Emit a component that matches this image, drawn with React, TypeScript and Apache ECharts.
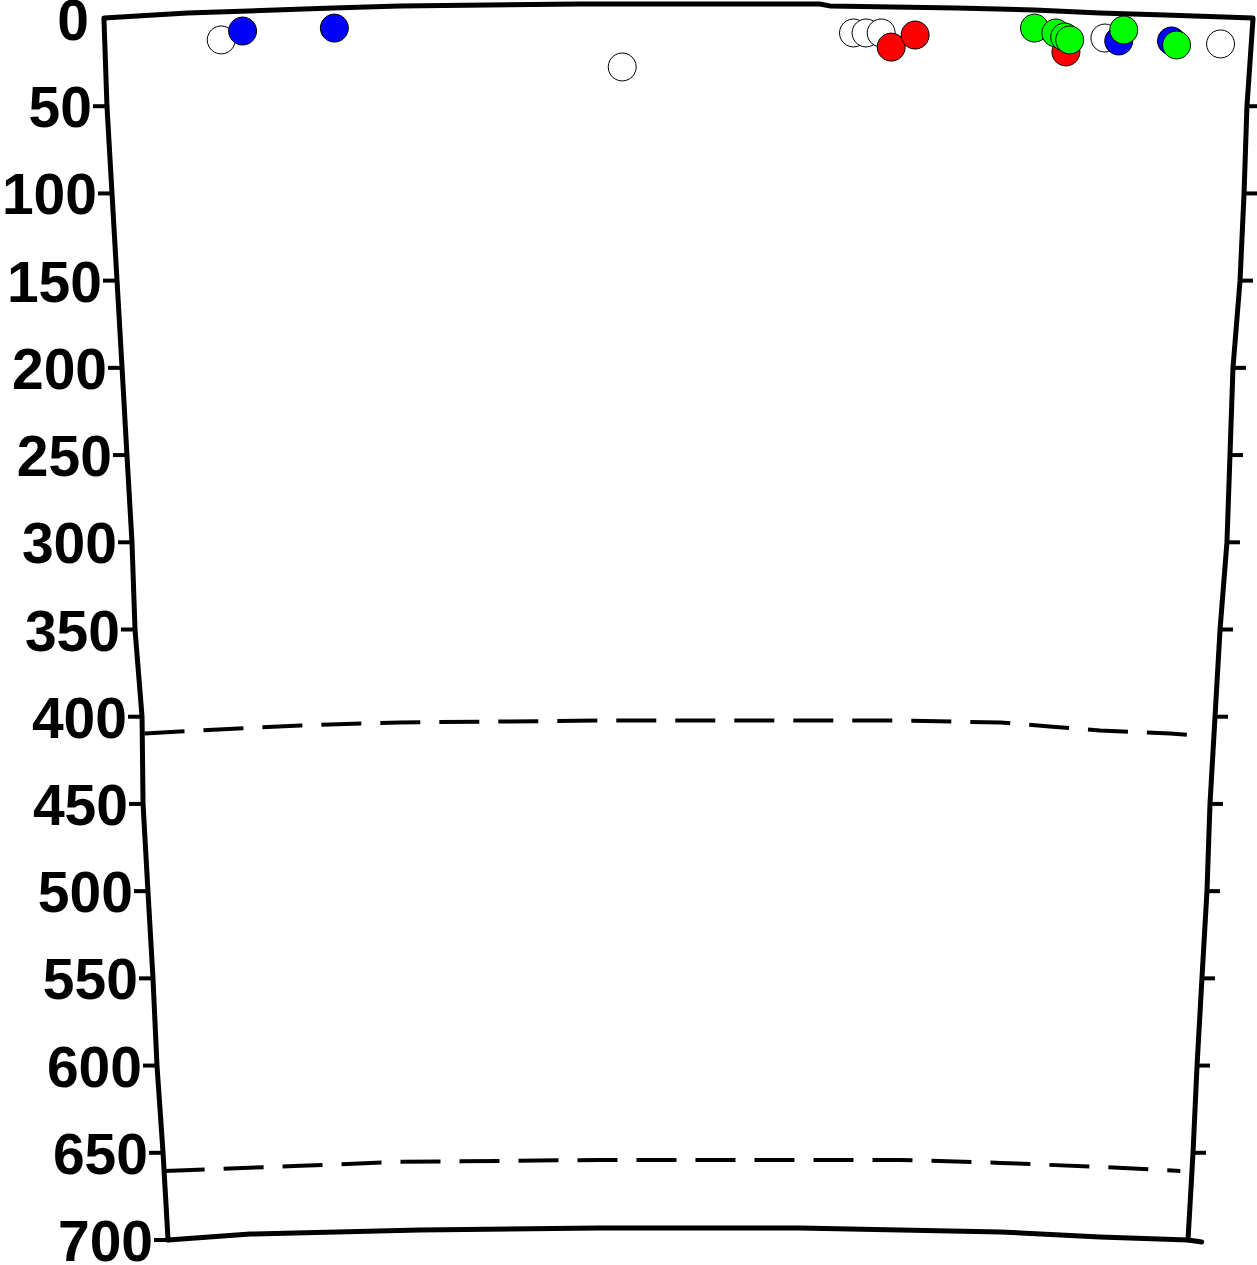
import React, { useEffect, useRef } from "react";
import * as echarts from "echarts";

// Depth ticks (y, increasing downward)
const TICKS = [0, 50, 100, 150, 200, 250, 300, 350, 400, 450, 500, 550, 600, 650, 700];
// Section edges (distance 0-100) sampled at each tick depth
const LEFT_EDGE = [8.27, 8.51, 8.91, 9.31, 9.71, 10.1, 10.5, 10.74, 11.3, 11.38, 11.77, 12.17, 12.49, 12.97, 13.37];
const RIGHT_EDGE = [99.68, 99.2, 98.97, 98.65, 98.09, 97.85, 97.61, 97.06, 96.66, 96.26, 96.02, 95.62, 95.23, 94.91, 94.51];

// Top surface
const TOP_X = [8.27, 14.9, 26.5, 31.8, 46.1, 65.2, 66.0, 76.1, 82.3, 87.5, 92.7, 99.68];
const TOP_D = [-0.6, -3.4, -6.3, -7.5, -8.6, -8.6, -7.5, -6.3, -5.2, -3.4, -2.3, -0.6];
// Bottom
const BOT_X = [13.37, 19.9, 33.4, 47.7, 63.6, 79.6, 87.5, 94.51, 95.6];
const BOT_D = [700, 696.6, 694.3, 693.1, 693.1, 695.4, 698.3, 700, 701.1];
// Boundary 1 (dashed)
const B1_X = [11.5, 14.3, 23.9, 31.8, 47.7, 71.6, 79.6, 83.5, 87.5, 93.1, 95.2];
const B1_D = [409.6, 408.5, 405.0, 403.3, 402.2, 402.2, 403.3, 405.6, 407.9, 409.6, 410.8];
// Boundary 2 (dashed)
const B2_X = [13.1, 23.9, 31.8, 47.7, 71.6, 79.6, 87.5, 93.9];
const B2_D = [660.4, 657.5, 655.2, 654.1, 654.1, 655.8, 658.1, 660.4];

// Samples: [distance, depth]
const WHITE = [[17.6, 12.0], [49.5, 27.5], [67.9, 8.0], [68.9, 8.0], [70.1, 8.0], [87.9, 10.9], [97.1, 14.3]];
const BLUE = [[19.3, 6.9], [26.6, 5.2], [89.0, 12.6], [93.2, 12.6]];
const RED = [[70.9, 16.1], [72.8, 9.2], [84.8, 18.9]];
const GREEN = [[82.3, 5.2], [84.0, 8.0], [84.7, 10.3], [85.1, 12.0], [89.4, 6.3], [93.6, 14.9]];

const zip = (xs: number[], ys: number[]) => xs.map((x, i) => [x, ys[i]]);

export default function App() {
  const ref = useRef<HTMLDivElement>(null);
  useEffect(() => {
    document.body.style.margin = "0";
    const chart = echarts.init(ref.current!, null, { renderer: "svg" });
    const lineBase = (data: number[][], extra: any = {}) => ({
      type: "line",
      data,
      symbol: "none",
      clip: false,
      silent: true,
      lineStyle: { color: "#000", width: 5, join: "round", cap: "round", ...extra },
      z: 3,
    });
    const scatter = (data: number[][], color: string, z: number) => ({
      type: "scatter",
      data,
      symbol: "circle",
      symbolSize: 28,
      clip: false,
      itemStyle: { color, borderColor: "#000", borderWidth: 1, opacity: 1 },
      z,
    });
    chart.setOption({
      animation: false,
      grid: { left: 0, right: 0, top: 19, bottom: 25 },
      xAxis: { type: "value", min: 0, max: 100, show: false },
      yAxis: { type: "value", min: 0, max: 700, inverse: true, show: false },
      series: [
        lineBase(zip(TOP_X, TOP_D)),
        lineBase(zip(BOT_X, BOT_D)),
        lineBase(TICKS.map((d, i) => [LEFT_EDGE[i], d])),
        lineBase(TICKS.map((d, i) => [RIGHT_EDGE[i], d])),
        lineBase(zip(B1_X, B1_D), { width: 4, type: [40, 19], cap: "butt" }),
        lineBase(zip(B2_X, B2_D), { width: 4, type: [40, 19], cap: "butt" }),
        {
          type: "custom",
          clip: false,
          silent: true,
          z: 4,
          data: TICKS.map((d, i) => [LEFT_EDGE[i], d, RIGHT_EDGE[i]]),
          renderItem: (params: any, api: any) => {
            const d = api.value(1);
            const pl = api.coord([api.value(0), d]);
            const pr = api.coord([api.value(2), d]);
            const children: any[] = [];
            if (d !== 0) {
              children.push({
                type: "line",
                shape: { x1: pl[0] - 14, y1: pl[1], x2: pl[0], y2: pl[1] },
                style: { stroke: "#000", lineWidth: 4 },
              });
            }
            if (d !== 0 && d !== 700) {
              children.push({
                type: "line",
                shape: { x1: pr[0], y1: pr[1], x2: pr[0] + 13, y2: pr[1] },
                style: { stroke: "#000", lineWidth: 4 },
              });
            }
            children.push({
              type: "text",
              style: {
                text: String(TICKS[params.dataIndex]),
                x: pl[0] - 15,
                y: pl[1] + 1,
                align: "right",
                verticalAlign: "middle",
                fontFamily: "Liberation Sans, Arial, sans-serif",
                fontWeight: "bold",
                fontSize: 57,
                fill: "#000",
              },
            });
            return { type: "group", children };
          },
        },
        scatter(WHITE, "#ffffff", 5),
        scatter(BLUE, "#0000ff", 6),
        scatter(RED, "#ff0000", 7),
        scatter(GREEN, "#00ff00", 8),
      ],
    });
    return () => chart.dispose();
  }, []);
  return <div ref={ref} style={{ width: 1257, height: 1265 }} />;
}
